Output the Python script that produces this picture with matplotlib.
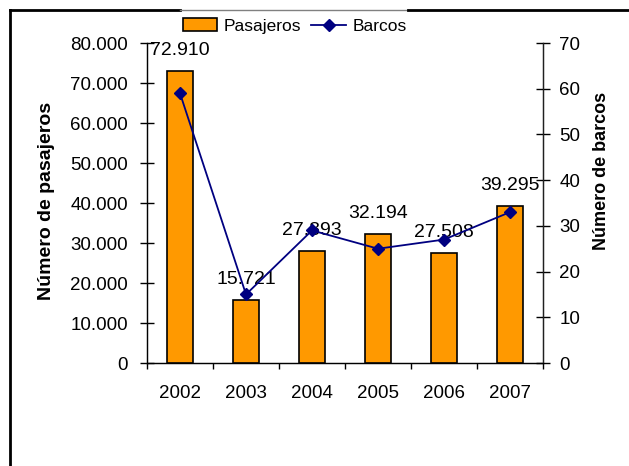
import matplotlib
matplotlib.use("Agg")
import matplotlib.pyplot as plt
from matplotlib.lines import Line2D
from matplotlib.ticker import FuncFormatter, FixedLocator

plt.rcParams['font.family'] = ['Liberation Sans', 'DejaVu Sans']

years = ['2002', '2003', '2004', '2005', '2006', '2007']
pasajeros = [72910, 15721, 27893, 32194, 27508, 39295]
barcos = [59, 15, 29, 25, 27, 33]
pas_labels = ['72.910', '15.721', '27.893', '32.194', '27.508', '39.295']

W, H = 629, 466
fig = plt.figure(figsize=(W / 100, H / 100), dpi=100)
ax = fig.add_axes([147 / W, 1 - 363 / H, (543 - 147) / W, (363 - 43) / H])

x = list(range(len(years)))
bars = ax.bar(x, pasajeros, width=0.39, color='#FF9900', edgecolor='black',
              linewidth=1.2, zorder=2, label='Pasajeros')
ax.set_xlim(-0.5, len(years) - 0.5)
ax.set_ylim(0, 80000)
ax.set_yticks(range(0, 80001, 10000))
ax.yaxis.set_major_formatter(FuncFormatter(lambda v, p: f"{int(v):,}".replace(',', '.')))

# x ticks at category boundaries, labels at centers
ax.xaxis.set_major_locator(FixedLocator([i - 0.5 for i in range(len(years) + 1)]))
ax.xaxis.set_minor_locator(FixedLocator(x))
ax.set_xticklabels([], minor=False)
ax.set_xticklabels(years, minor=True)
ax.tick_params(axis='x', which='major', direction='out', length=4.5, width=1, color='black')
ax.tick_params(axis='x', which='minor', length=0, pad=15.5, labelsize=13.5)
ax.tick_params(axis='y', direction='inout', length=9.5, width=1, pad=9, labelsize=13.5)

for s in ['top']:
    ax.spines[s].set_visible(False)
for s in ['left', 'bottom', 'right']:
    ax.spines[s].set_linewidth(1)
    ax.spines[s].set_color('#202020')

for xi, v, lab in zip(x, pasajeros, pas_labels):
    ax.annotate(lab, (xi, v), xytext=(0, 11.5), textcoords='offset points',
                ha='center', va='baseline', fontsize=14, zorder=5)

ax2 = ax.twinx()
ax2.set_position(ax.get_position())
line, = ax2.plot(x, barcos, color='#000080', marker='D', markersize=6,
                 linewidth=1.3, zorder=4, label='Barcos')
ax2.set_ylim(0, 70)
ax2.set_yticks(range(0, 71, 10))
ax2.tick_params(axis='y', direction='inout', length=9.5, width=1, pad=7, labelsize=13.5)
ax2.spines['top'].set_visible(False)
ax2.spines['right'].set_color('#202020')

fig.text(47 / W, 1 - 201 / H, 'Número de pasajeros', rotation=90, ha='center',
         va='center', fontsize=14, fontweight='bold')
fig.text(602 / W, 1 - 171 / H, 'Número de barcos', rotation=90, ha='center',
         va='center', fontsize=13, fontweight='bold')

leg = fig.legend(handles=[bars, line], labels=['Pasajeros', 'Barcos'], ncol=2,
                 loc='center', bbox_to_anchor=(294.5 / W, 1 - 26 / H),
                 frameon=False, fontsize=12.5, handlelength=2.0, handletextpad=0.35,
                 columnspacing=0.6, borderpad=0)

# outer frame
fig.add_artist(Line2D([10 / W, 10 / W], [0, 1 - 10 / H], color='black', linewidth=2,
                      transform=fig.transFigure))
fig.add_artist(Line2D([10 / W, 180 / W], [1 - 10 / H, 1 - 10 / H], color='black', linewidth=2,
                      transform=fig.transFigure))
fig.add_artist(Line2D([180 / W, 408 / W], [1 - 10 / H, 1 - 10 / H], color='#808080', linewidth=1,
                      transform=fig.transFigure))
fig.add_artist(Line2D([408 / W, 1], [1 - 10 / H, 1 - 10 / H], color='black', linewidth=2,
                      transform=fig.transFigure))

fig.savefig('out.png', dpi=100, facecolor='white')
